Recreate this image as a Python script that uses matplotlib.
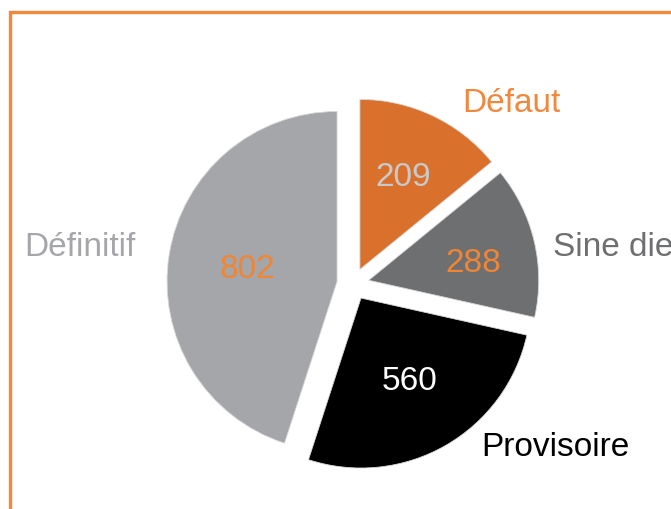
import matplotlib
matplotlib.use("Agg")
import matplotlib.pyplot as plt
import numpy as np
from matplotlib.patches import Rectangle

# Data
categories = ["Défaut", "Sine die", "Provisoire", "Définitif"]
counts = [209, 288, 560, 802]
# slice shares as drawn in the reference picture (percent)
shares = [14.1, 14.4, 26.5, 45.0]

slice_colors = ["#D9712D", "#6E6F71", "#000000", "#A5A6A9"]
name_colors = ["#F0883E", "#6E6F71", "#000000", "#A5A6A9"]
value_colors = ["#C9C9C9", "#F08533", "#FFFFFF", "#F08533"]

plt.rcParams['font.family'] = ['Liberation Sans', 'DejaVu Sans']

W, H = 671, 509
fig = plt.figure(figsize=(W / 100, H / 100), dpi=100)
ax = fig.add_axes([0, 0, 1, 1])

cx, cy, R = 353, 284, 170  # pixel centre and radius
explode = [0.095] * 4
wedges, _ = ax.pie(shares, colors=slice_colors, startangle=90, counterclock=False,
                   explode=explode, radius=1.0,
                   wedgeprops=dict(edgecolor="#D8D8D8", linewidth=0.6))
ax.set_aspect('auto')
ax.set_xlim(-cx / R, (W - cx) / R)
ax.set_ylim(-(H - cy) / R, cy / R)
ax.axis('off')

fs = 24

def px(xp, yp):
    return (xp - cx) / R, (cy - yp) / R

# value labels
value_pos = [(403, 178), (473, 264), (410, 381), (247, 269)]
for v, c, (xp, yp) in zip(counts, value_colors, value_pos):
    x, y = px(xp, yp)
    ax.text(x, y, str(v), color=c, fontsize=fs, ha='center', va='center')

# category labels
name_pos = [(511, 103, 'center'), (553, 248, 'left'), (555, 447, 'center'), (80, 248, 'center')]
for name, col, (xp, yp, ha) in zip(categories, name_colors, name_pos):
    x, y = px(xp, yp)
    ax.text(x, y, name, color=col, fontsize=fs, ha=ha, va='center')

# orange frame, cropped at right and bottom
fig.patches.append(Rectangle((9.5 / W, -0.05), 1.2, (H - 11.5) / H + 0.05,
                             transform=fig.transFigure, fill=False,
                             edgecolor="#F5873A", linewidth=2.4))

fig.savefig("out.png", dpi=100)
